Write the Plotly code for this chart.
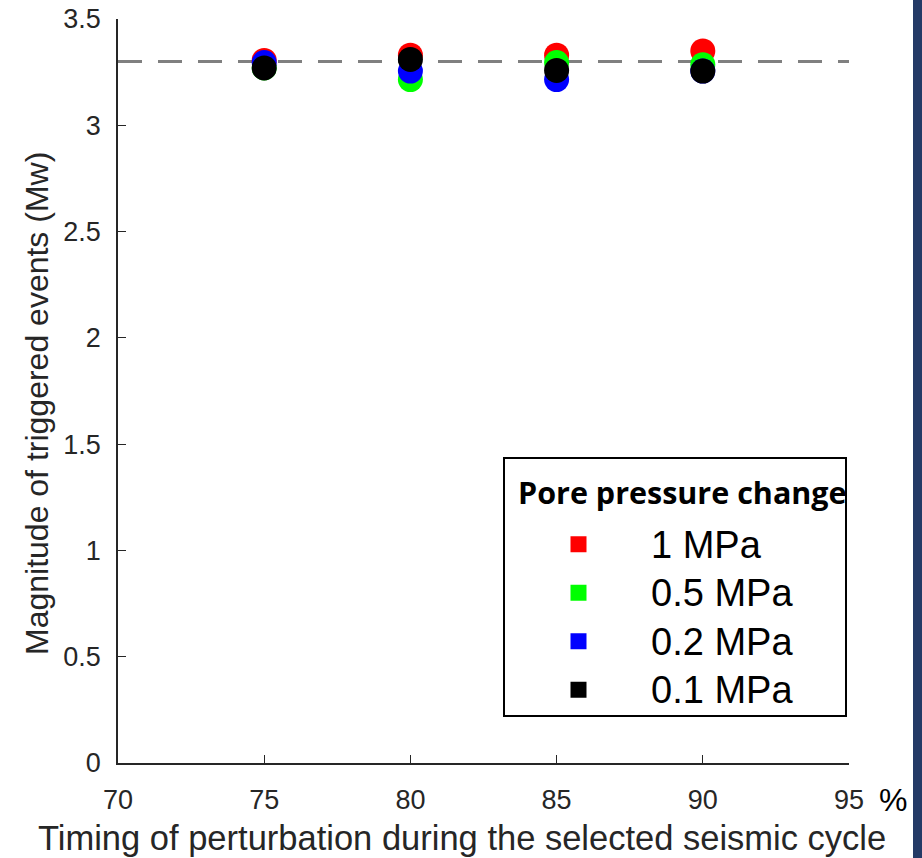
import plotly.graph_objects as go

# ---- data ----
timing = [75, 80, 85, 90]
series_names = ["1 MPa", "0.5 MPa", "0.2 MPa", "0.1 MPa"]
mag_1mpa = [3.305, 3.33, 3.33, 3.35]
mag_05mpa = [3.27, 3.215, 3.295, 3.285]
mag_02mpa = [3.295, 3.255, 3.215, 3.255]
mag_01mpa = [3.27, 3.31, 3.258, 3.255]
series_values = [mag_1mpa, mag_05mpa, mag_02mpa, mag_01mpa]
series_colors = ["#ff0000", "#00ff00", "#0000ff", "#000000"]
reference_mag = 3.3
x_ticks = [70, 75, 80, 85, 90, 95]
y_ticks = [0, 0.5, 1, 1.5, 2, 2.5, 3, 3.5]
legend_title = "Pore pressure change"

fig = go.Figure()

fig.add_trace(go.Scatter(
    x=[x_ticks[0], x_ticks[-1]], y=[reference_mag, reference_mag],
    mode="lines", line=dict(color="#808080", width=3, dash="24px,16px"),
    showlegend=False, hoverinfo="skip"))

for name, vals, col in zip(series_names, series_values, series_colors):
    fig.add_trace(go.Scatter(
        x=timing, y=vals, mode="markers",
        marker=dict(color=col, size=25, line=dict(width=0)),
        showlegend=False, name=name))

for name, col in zip(series_names, series_colors):
    fig.add_trace(go.Scatter(
        x=[None], y=[None], mode="markers",
        name="<span style='font-size:38px'>" + name + "</span>",
        marker=dict(color=col, size=16, symbol="square", line=dict(width=0)),
        showlegend=True))

W, H = 922, 858
L, R, T, B = 118, 849, 19, 763
px = lambda x: (x - L) / (R - L)
py = lambda y: (B - y) / (B - T)

axis_col = "#262626"
fig.update_layout(
    width=W, height=H,
    margin=dict(l=L, r=W - R, t=T, b=H - B, autoexpand=False),
    plot_bgcolor="white", paper_bgcolor="white",
    font=dict(family="Liberation Sans, Arial, sans-serif", color=axis_col),
    xaxis=dict(range=[70, 95], tickvals=x_ticks, ticks="inside", ticklen=8,
               tickcolor=axis_col, showline=True, linecolor=axis_col, linewidth=1.5,
               showgrid=False, zeroline=False, tickfont=dict(size=27),
               ticklabelstandoff=12),
    yaxis=dict(range=[0, 3.5], tickvals=y_ticks, ticks="inside", ticklen=8,
               tickcolor=axis_col, showline=True, linecolor=axis_col, linewidth=1.5,
               showgrid=False, zeroline=False, tickfont=dict(size=27),
               ticklabelstandoff=10),
    legend=dict(
        x=px(506), y=py(515), xanchor="left", yanchor="top",
        bgcolor="rgba(0,0,0,0)", borderwidth=0,
        font=dict(size=35, color="black"),
        itemwidth=135, tracegroupgap=0),
    shapes=[
        dict(type="rect", xref="paper", yref="paper",
             x0=px(504), x1=px(846), y0=py(716), y1=py(458),
             fillcolor="white", line=dict(color="black", width=2), layer="below"),
        dict(type="rect", xref="paper", yref="paper",
             x0=px(913), x1=1.12, y0=-0.2, y1=1.1,
             fillcolor="#243a66", line=dict(width=0), layer="above")],
    annotations=[
        dict(text="<b>" + legend_title + "</b>", xref="paper", yref="paper",
             x=px(516), y=py(492), showarrow=False, xanchor="left", yanchor="middle",
             font=dict(family="Open Sans, sans-serif", size=30.5, color="black")),
        dict(text="Timing of perturbation during the selected seismic cycle",
             xref="paper", yref="paper", x=px(462), y=py(838),
             showarrow=False, font=dict(size=34.5, color=axis_col),
             xanchor="center", yanchor="middle"),
        dict(text="Magnitude of triggered events (Mw)",
             xref="paper", yref="paper", x=px(37), y=py(404),
             showarrow=False, textangle=-90, font=dict(size=32, color=axis_col),
             xanchor="center", yanchor="middle"),
        dict(text="%", xref="paper", yref="paper", x=px(893),
             y=py(800), showarrow=False, font=dict(size=32, color="black"),
             xanchor="center", yanchor="middle"),
    ],
)

fig.write_html("out.html")
